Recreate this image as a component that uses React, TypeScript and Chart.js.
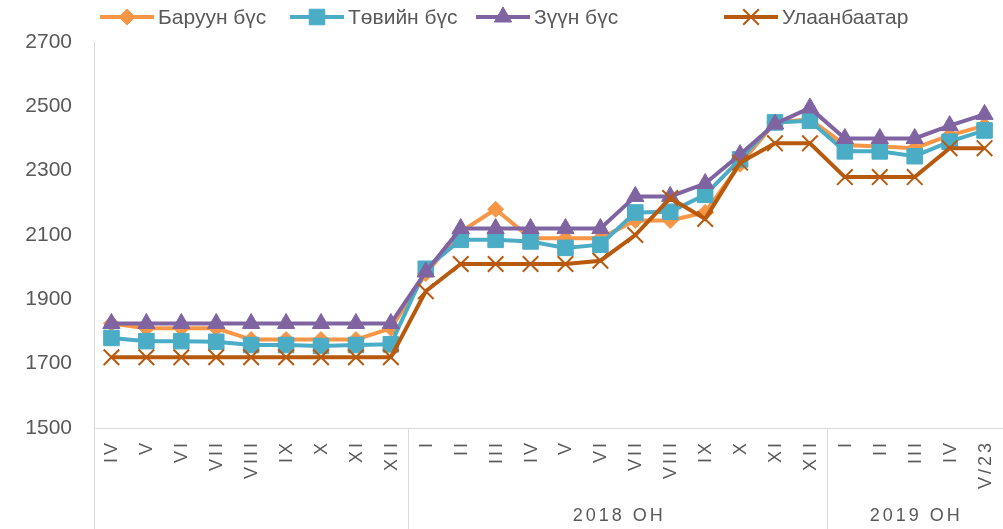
import React, { useEffect, useRef } from 'react';
import { Chart, registerables } from 'chart.js';
import { drawPoint } from 'chart.js/helpers';

Chart.register(...registerables);

const FONT = '"Liberation Sans", Arial, Helvetica, sans-serif';
const TEXT = '#595959';
const AXIS = '#d9d9d9';

// Month categories (Roman numerals)
const categories = [
  'IV', 'V', 'VI', 'VII', 'VIII', 'IX', 'X', 'XI', 'XII',
  'I', 'II', 'III', 'IV', 'V', 'VI', 'VII', 'VIII', 'IX', 'X', 'XI', 'XII',
  'I', 'II', 'III', 'IV', 'V/23',
];
// Year groups under the months
const groupLabels = ['', '2018 ОН', '2019 ОН'];
const groupSizes = [9, 12, 5];

// Series
const seriesNames = ['Баруун бүс', 'Төвийн бүс', 'Зүүн бүс', 'Улаанбаатар'];
const baruun = [
  1825, 1810, 1810, 1810, 1775, 1775, 1775, 1775, 1810,
  1980, 2110, 2180, 2090, 2090, 2090, 2145, 2145, 2170, 2320, 2450, 2460,
  2380, 2375, 2370, 2410, 2440,
];
const tuviin = [
  1780, 1770, 1770, 1768, 1758, 1758, 1755, 1758, 1760,
  1995, 2085, 2085, 2080, 2060, 2070, 2170, 2172, 2225, 2335, 2450, 2455,
  2360, 2360, 2345, 2390, 2425,
];
const zuun = [
  1825, 1825, 1825, 1825, 1825, 1825, 1825, 1825, 1825,
  1985, 2120, 2120, 2120, 2120, 2120, 2220, 2220, 2260, 2350, 2445, 2495,
  2400, 2400, 2400, 2440, 2475,
];
const ulaanbaatar = [
  1720, 1720, 1720, 1720, 1720, 1720, 1720, 1720, 1720,
  1925, 2010, 2010, 2010, 2010, 2020, 2100, 2215, 2150, 2325, 2385, 2385,
  2280, 2280, 2280, 2370, 2370,
];

// Y axis range
const yMin = 1500;
const yMax = 2700;
const yStep = 200;

const colors = ['#F79646', '#4BACC6', '#8064A2', '#B85A0E'];
const pointStyles = ['rectRot', 'rect', 'triangle', 'crossRot'];
const pointRadii = [8, 11, 10, 11];
const legendStartX = [100, 290, 476, 724];

const multiAxisPlugin = {
  id: 'multiAxisLegend',
  afterDraw(chart: any) {
    const ctx: CanvasRenderingContext2D = chart.ctx;
    const xs = chart.scales.x;
    const area = chart.chartArea;
    const n = categories.length;
    const boundary = (i: number) => {
      if (i <= 0) return xs.left;
      if (i >= n) return xs.right;
      return (xs.getPixelForValue(i - 1) + xs.getPixelForValue(i)) / 2;
    };

    ctx.save();
    // separator lines
    ctx.strokeStyle = AXIS;
    ctx.lineWidth = 1;
    let idx = 0;
    const bounds: number[] = [0];
    groupSizes.forEach((s) => { idx += s; bounds.push(idx); });
    bounds.slice(0, bounds.length - 1).forEach((b) => {
      const px = Math.round(boundary(b)) + 0.5;
      ctx.beginPath();
      ctx.moveTo(px, area.bottom);
      ctx.lineTo(px, chart.height);
      ctx.stroke();
    });

    // month labels (rotated)
    ctx.fillStyle = TEXT;
    ctx.font = `18px ${FONT}`;
    (ctx as any).letterSpacing = '3px';
    ctx.textAlign = 'right';
    ctx.textBaseline = 'middle';
    categories.forEach((lab, i) => {
      const px = xs.getPixelForValue(i);
      ctx.save();
      ctx.translate(px + 1, area.bottom + 15);
      ctx.rotate(-Math.PI / 2);
      ctx.fillText(lab, 3, 0);
      ctx.restore();
    });

    // group labels
    ctx.textAlign = 'center';
    groupLabels.forEach((g, gi) => {
      if (!g) return;
      const cx = (boundary(bounds[gi]) + boundary(bounds[gi + 1])) / 2;
      ctx.fillText(g, cx + 1.5, area.bottom + 88);
    });
    (ctx as any).letterSpacing = '0px';

    // legend
    ctx.font = `21px ${FONT}`;
    ctx.textAlign = 'left';
    ctx.textBaseline = 'middle';
    const ly = 17;
    seriesNames.forEach((name, i) => {
      const x0 = legendStartX[i];
      const lineLen = 54;
      ctx.strokeStyle = colors[i];
      ctx.lineWidth = 4;
      ctx.beginPath();
      ctx.moveTo(x0, ly);
      ctx.lineTo(x0 + lineLen, ly);
      ctx.stroke();
      ctx.fillStyle = colors[i];
      ctx.strokeStyle = colors[i];
      ctx.lineWidth = pointStyles[i] === 'crossRot' ? 2 : 1;
      drawPoint(ctx, { pointStyle: pointStyles[i], radius: pointRadii[i], rotation: 0, borderWidth: ctx.lineWidth } as any, x0 + lineLen / 2, ly);
      ctx.fillStyle = TEXT;
      ctx.fillText(name, x0 + lineLen + 4, ly + 1);
    });
    ctx.restore();
  },
};

export default function App() {
  const ref = useRef<HTMLCanvasElement | null>(null);
  useEffect(() => {
    if (!ref.current) return;
    const seriesData = [baruun, tuviin, zuun, ulaanbaatar];
    const chart = new Chart(ref.current, {
      type: 'line',
      data: {
        labels: categories,
        datasets: seriesData.map((d, i) => ({
          label: seriesNames[i],
          data: d,
          borderColor: colors[i],
          backgroundColor: colors[i],
          borderWidth: 4,
          pointStyle: pointStyles[i] as any,
          pointRadius: pointRadii[i],
          pointHoverRadius: pointRadii[i],
          pointBackgroundColor: colors[i],
          pointBorderColor: colors[i],
          pointBorderWidth: pointStyles[i] === 'crossRot' ? 2 : 1,
          tension: 0,
          fill: false,
          clip: false as any,
          order: 3 - i,
        })),
      },
      options: {
        animation: false,
        responsive: false,
        devicePixelRatio: 1,
        layout: { autoPadding: false, padding: { top: 42, right: 1, left: 0, bottom: 0 } },
        plugins: {
          legend: { display: false },
          tooltip: { enabled: false },
        },
        scales: {
          x: {
            type: 'category',
            offset: true,
            grid: { display: false, drawTicks: false },
            border: { display: true, color: AXIS, width: 1 },
            ticks: { display: false },
            afterFit: (s: any) => { s.height = 101; },
          },
          y: {
            min: yMin,
            max: yMax,
            grid: { display: false, drawTicks: false },
            border: { display: true, color: AXIS, width: 1 },
            ticks: {
              stepSize: yStep,
              padding: 22,
              color: TEXT,
              font: { family: FONT, size: 21 },
              callback: (v: any) => String(v),
            },
            afterFit: (s: any) => { s.width = 94; },
          },
        },
      },
      plugins: [multiAxisPlugin],
    });
    return () => chart.destroy();
  }, []);
  return (
    <div style={{ position: 'absolute', left: 0, top: 0, width: 1003, height: 529, background: '#fff' }}>
      <canvas ref={ref} width={1003} height={529} />
    </div>
  );
}
